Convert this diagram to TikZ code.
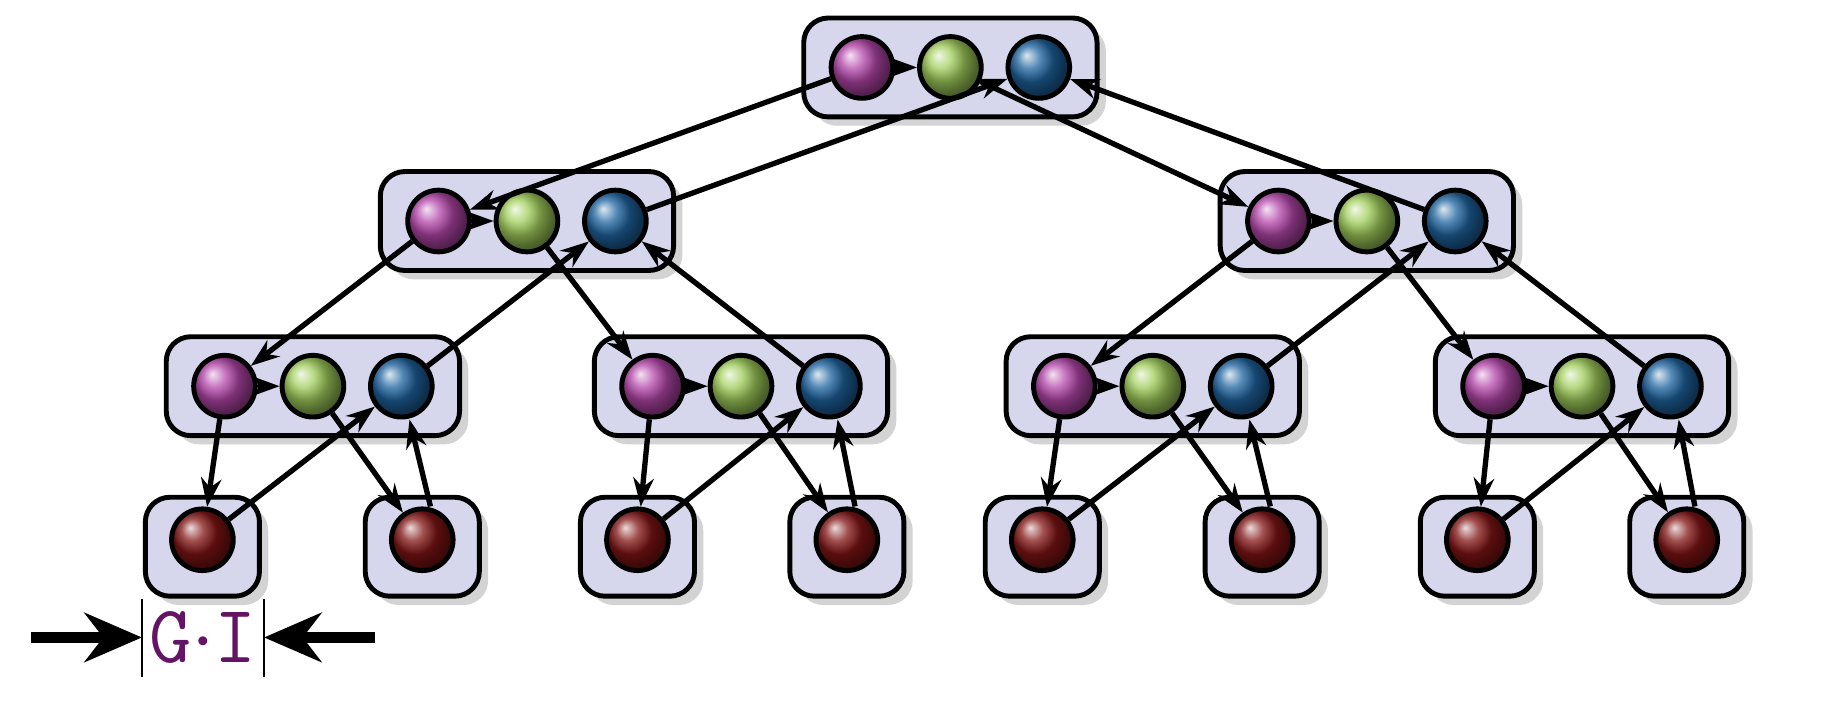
\documentclass[tikz,border=0pt]{standalone}
\usetikzlibrary{shadows,arrows.meta}
\definecolor{boxfill}{RGB}{214,214,236}
\definecolor{magball}{RGB}{180,70,170}
\definecolor{grnball}{RGB}{160,205,90}
\definecolor{bluball}{RGB}{30,100,160}
\definecolor{redball}{RGB}{130,20,20}
\definecolor{gitext}{RGB}{100,20,100}
\tikzset{
  grp/.style={draw=black,line width=1.2pt,rounded corners=6pt,fill=boxfill,drop shadow={opacity=.35}},
  bead/.style={circle,draw=black,line width=1.2pt,minimum size=0.53cm,inner sep=0pt},
  link/.style={-{Stealth[length=7pt,width=5pt]},line width=1.3pt},
}
% a box with three beads, names #1m #1g #1b
\newcommand\trio[3]{
  \node[grp,minimum width=2.52cm,minimum height=0.85cm] (#1) at (#2,#3) {};
  \node[bead,ball color=magball] (#1m) at ($(#2,#3)+(-76,0)$) {};
  \node[bead,ball color=grnball] (#1g) at (#2,#3) {};
  \node[bead,ball color=bluball] (#1b) at ($(#2,#3)+(76,0)$) {};
  \draw[link] (#1m) -- (#1g);
}
\newcommand\leaf[3]{
  \node[grp,minimum width=0.98cm,minimum height=0.85cm] (#1) at (#2,#3) {};
  \node[bead,ball color=redball] (#1r) at ($(#2,#3)+(0,-6)$) {};
}
\usetikzlibrary{calc}
\begin{document}
\begin{tikzpicture}[x=0.01cm,y=-0.01cm]
  \useasboundingbox (0,0) rectangle (1568,622);
  % tree of boxes
  \trio{t}{817}{58}
  \trio{l}{453}{190}
  \trio{r}{1175}{190}
  \trio{a}{269}{332}
  \trio{b}{637}{332}
  \trio{c}{991}{332}
  \trio{d}{1360}{332}
  \leaf{a1}{174}{470}
  \leaf{a2}{363}{470}
  \leaf{b1}{548}{470}
  \leaf{b2}{728}{470}
  \leaf{c1}{896}{470}
  \leaf{c2}{1085}{470}
  \leaf{d1}{1270}{470}
  \leaf{d2}{1450}{470}
  % links between levels
  \foreach \p/\u/\v in {t/l/r,l/a/b,r/c/d}{
    \draw[link] (\p m) -- (\u m);
    \draw[link] (\u b) -- (\p b);
    \draw[link] (\p g) -- (\v m);
    \draw[link] (\v b) -- (\p b);
  }
  \foreach \p in {a,b,c,d}{
    \draw[link] (\p m) -- (\p1r);
    \draw[link] (\p1r) -- (\p b);
    \draw[link] (\p g) -- (\p2r);
    \draw[link] ([xshift=2]\p2r.north) -- ([xshift=2]\p b.south);
  }
  % width marker
  \coordinate (wl1) at (122,515); \coordinate (wl2) at (122,582);
  \coordinate (wr1) at (227,515); \coordinate (wr2) at (227,582);
  \draw[line width=0.6pt] (wl1) -- (wl2);
  \draw[line width=0.6pt] (wr1) -- (wr2);
  \node[text=gitext,font=\ttfamily\fontsize{20}{22}\selectfont] (gi) at (174.5,548) {G$\cdot$I};
  \coordinate (pl) at (27,548); \coordinate (pr) at (322,548);
  \draw[-{Stealth[length=14pt,width=12pt]},line width=2.5pt] (pl) -- (wl1 |- gi);
  \draw[-{Stealth[length=14pt,width=12pt]},line width=2.5pt] (pr) -- (wr1 |- gi);
\end{tikzpicture}
\end{document}
